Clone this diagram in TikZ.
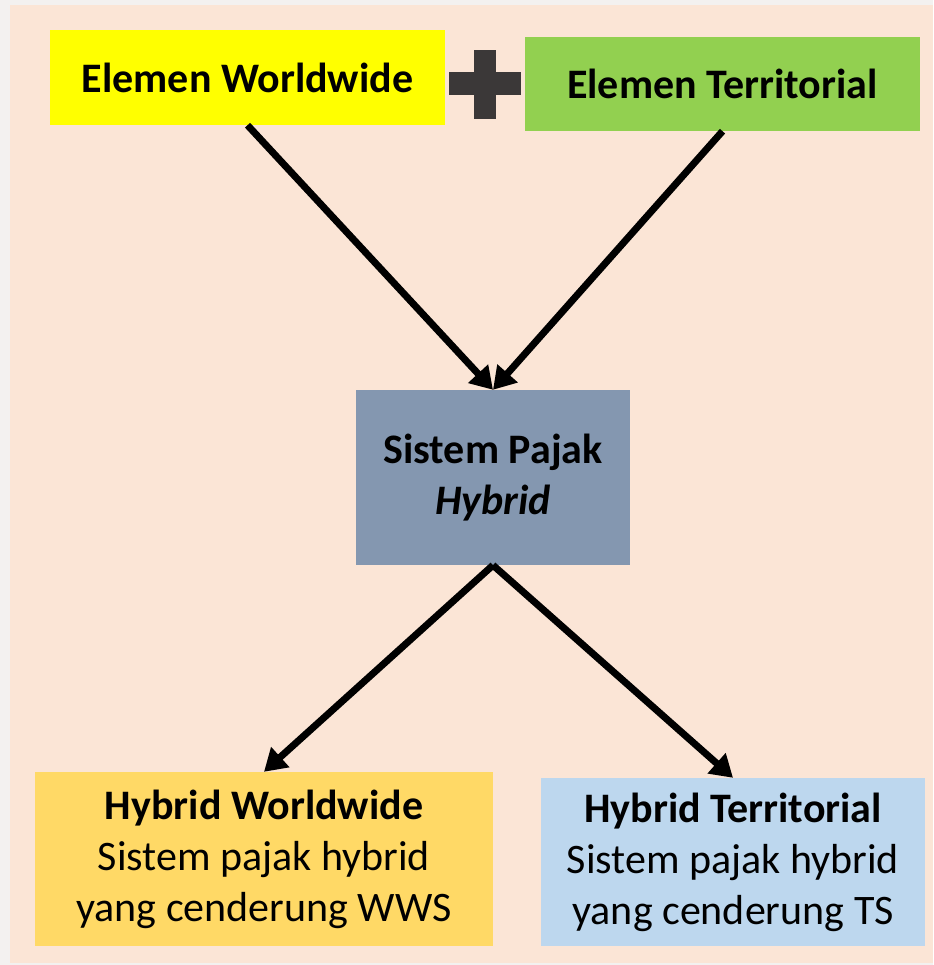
\documentclass[tikz,border=0pt]{standalone}
\usepackage{fontspec}
\setmainfont{Carlito}
\usetikzlibrary{arrows.meta}
\definecolor{peach}{HTML}{FBE5D6}
\definecolor{outerbg}{HTML}{F3F1F0}
\definecolor{ylw}{HTML}{FFFF00}
\definecolor{grn}{HTML}{92D050}
\definecolor{slate}{HTML}{8497B0}
\definecolor{gold}{HTML}{FFD966}
\definecolor{lblue}{HTML}{BDD7EE}
\definecolor{plusgray}{HTML}{3B3838}
\tikzset{
  box/.style={draw=none, inner sep=0pt, align=center, text=black,
    font=\fontsize{42}{51}\selectfont},
  conn/.style={line width=7pt, draw=black,
    -{Triangle[length=22pt,width=26pt]}},
}
\begin{document}
\begin{tikzpicture}[x=1pt,y=-1pt]
\useasboundingbox (0,0) rectangle (933,965);
\fill[outerbg] (0,0) rectangle (933,965);
\fill[peach] (10,5) rectangle (933,963);
% boxes
\node[box, fill=ylw, minimum width=395pt, minimum height=95pt] (ww) at (247.5,77.5) {\textbf{Elemen Worldwide}};
\node[box, fill=grn, minimum width=395pt, minimum height=94pt] (et) at (722.5,84) {\textbf{Elemen Territorial}};
\node[box, fill=slate, minimum width=274pt, minimum height=175pt] (sp) at (493,477.5) {\textbf{Sistem Pajak}\\\textbf{\textit{Hybrid}}};
\node[box, fill=gold, minimum width=458pt, minimum height=174pt] (hw) at (264,859) {\textbf{Hybrid Worldwide}\\Sistem pajak hybrid\\yang cenderung WWS};
\node[box, fill=lblue, minimum width=384pt, minimum height=168pt] (ht) at (733,862) {\textbf{Hybrid Territorial}\\Sistem pajak hybrid\\yang cenderung TS};
% plus sign
\fill[plusgray] (449,72) rectangle (521,95);
\fill[plusgray] (474,50) rectangle (496,119);
% connectors
\draw[conn] (ww.south) -- (sp.north);
\draw[conn] (et.south) -- (sp.north);
\draw[conn] (sp.south) -- (hw.north);
\draw[conn] (sp.south) -- (ht.north);
\end{tikzpicture}
\end{document}
